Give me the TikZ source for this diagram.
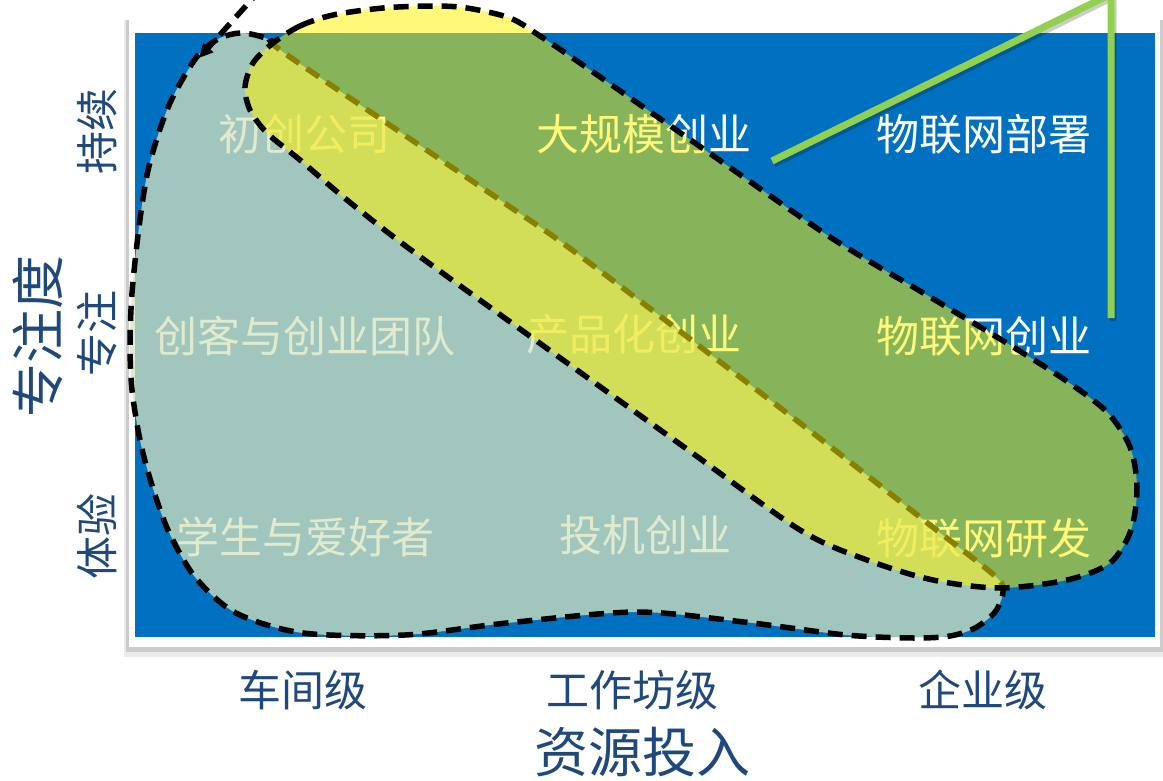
\documentclass[tikz,border=0pt]{standalone}
\usepackage{fontspec}
\setmainfont{Noto Sans CJK SC}
\usetikzlibrary{arrows.meta}
\definecolor{plotblue}{RGB}{0,112,192}
\definecolor{paleolive}{RGB}{215,228,189}
\definecolor{axisblue}{RGB}{31,73,125}
\definecolor{lightgreen}{RGB}{146,208,80}
\tikzset{
  outl/.style={draw=black,line width=5.5pt,dash pattern=on 15pt off 9pt},
  lbl/.style={text=white,font=\fontsize{43}{50}\selectfont,inner sep=0pt},
  axl/.style={text=axisblue,font=\fontsize{43}{50}\selectfont,inner sep=0pt},
  bigl/.style={axl,font=\fontsize{54}{62}\selectfont}
}

\begin{document}
\begin{tikzpicture}[x=1pt,y=-1pt]
\useasboundingbox (0,0) rectangle (1163,780);
\fill[black!8] (124,20) rectangle (1163,657);
\fill[black!20] (126,20) rectangle (1163,652);
\fill[white] (129,18) rectangle (1160,647);
\fill[plotblue] (135,33) rectangle (1155,637);
\foreach \t/\x/\y [count=\i] in {初创公司/304/134, 大规模创业/644/134, 物联网部署/984/134,
    创客与创业团队/305/336, 产品化创业/634/334, 物联网创业/984/336,
    学生与爱好者/305/537, 投机创业/645/535, 物联网研发/984/538}
  \node[lbl] (c\i) at (\x,\y) {\t};
\path[outl,fill=paleolive,fill opacity=0.75] plot[smooth cycle] coordinates {
    (243,33) (270,40) (290,57) (500,200) (583,258) (800,423) (930,525) (995,576)
    (1003,592) (995,612) (975,628) (950,636) (914,638) (846,635) (744,622) (636,612)
    (507,623) (405,635) (303,633) (236,613) (195,577) (168,530) (151,482) (140,440)
    (132,390) (130,345) (132,293) (139,227) (147,175) (158,135) (170,103) (185,75) (200,53) (220,38)};
\path[outl,fill=yellow,fill opacity=0.53] plot[smooth cycle] coordinates {
    (273,43) (300,26) (333,15) (383,8) (433,6) (467,8) (510,18) (540,36) (580,63)
    (705,150) (830,237) (920,291) (1010,345) (1065,380) (1107,412) (1130,447) (1137,487)
    (1131,530) (1110,563) (1067,580) (1000,588) (933,580) (867,560) (800,530) (684,447)
    (545,347) (411,250) (347,200) (300,160) (267,133) (250,110) (245,87) (253,63)};
\coordinate (atail) at (262,-12);
\coordinate (ahead) at (199,58);
\draw[outl,-{Triangle[length=14pt,width=13pt]}] (atail) -- (ahead);
\coordinate (g1) at (772,161);
\coordinate (g2) at (1111,-6);
\coordinate (g3) at (1111,318);
\draw[black,opacity=0.2,line width=7pt,transform canvas={shift={(2,3)}}] (g1) -- (g2) -- (g3);
\draw[lightgreen,line width=7pt] (g1) -- (g2) -- (g3);
\foreach \t/\x [count=\i] in {车间级/303, 工作坊级/632, 企业级/983}
  \node[axl] (x\i) at (\x,690) {\t};
\foreach \t/\y [count=\i] in {持续/131, 专注/333, 体验/536}
  \node[axl,rotate=90] (y\i) at (97,\y) {\t};
\node[bigl] (xt) at (642,752) {资源投入};
\node[bigl,rotate=90] (yt) at (38,336) {专注度};
\end{tikzpicture}
\end{document}
